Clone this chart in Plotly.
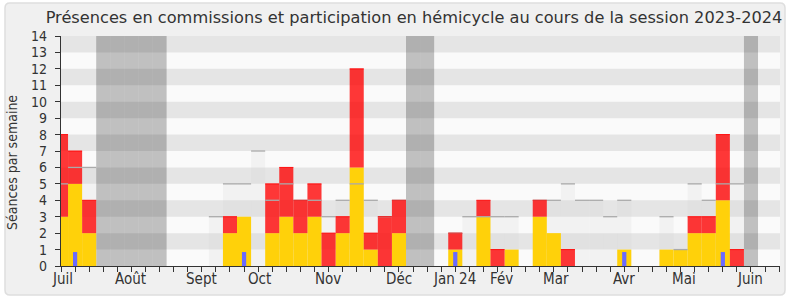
import plotly.graph_objects as go

# ---------------- data ----------------
weeks = list(range(52))
hemicycle = [3, 5, 2, 0, 0, 0, 0, 0, 0, 0, 0, 0, 2, 3, 0, 2, 3, 2, 3, 0,
             2, 6, 1, 0, 2, 0, 0, 0, 1, 0, 3, 0, 1, 0, 3, 2, 0, 0, 0, 0,
             1, 0, 0, 1, 1, 2, 2, 4, 0, 0, 0, 0]
commission = [5, 2, 2, 0, 0, 0, 0, 0, 0, 0, 0, 0, 1, 0, 0, 3, 3, 2, 2, 2,
              1, 6, 1, 3, 2, 0, 0, 0, 1, 0, 1, 1, 0, 0, 1, 0, 1, 0, 0, 0,
              0, 0, 0, 0, 0, 1, 1, 4, 1, 0, 0, 0]
mediane = [5, 6, 6, 0, 0, 0, 0, 0, 0, 0, 0, 3, 5, 5, 7, 4, 5, 4, 4, 3,
           4, 5, 4, 3, 4, 0, 0, 0, 2, 3, 3, 3, 3, 0, 4, 4, 5, 4, 4, 3,
           4, 0, 0, 3, 1, 5, 4, 5, 5, 0, 0, 0]
questions = [0, 0.85, 0, 0, 0, 0, 0, 0, 0, 0, 0, 0, 0, 0.85, 0, 0, 0, 0, 0, 0,
             0, 0, 0, 0, 0, 0, 0, 0, 0.85, 0, 0, 0, 0, 0, 0, 0, 0, 0, 0, 0,
             0.85, 0, 0, 0, 0, 0, 0, 0.85, 0, 0, 0, 0]
vacances = [3, 4, 5, 6, 7, 25, 26, 49]
mois_labels = ["Juil", "Août", "Sept", "Oct", "Nov", "Déc", "Jan 24", "Fév",
               "Mar", "Avr", "Mai", "Juin"]
mois_pos = [0.1, 4.97, 9.97, 14.1, 18.98, 24.0, 27.97, 31.25, 35.16, 39.95, 44.23, 48.96]
y_ticks = list(range(15))

TITLE = "Présences en commissions et participation en hémicycle au cours de la session 2023-2024"
YTITLE = "Séances par semaine"

# ---------------- geometry ----------------
W, H = 790, 300
ML, MR, MT, MB = 61, 10, 36, 34
PW, PH = W - ML - MR, H - MT - MB
XMAX = 51.06
COND = "DejaVu Sans Condensed, DejaVu Sans, sans-serif"
TXT = "#333333"


def px_x(px):
    return (px - ML) / PW


def px_y(py):
    return (H - MB - py) / PH


fig = go.Figure()

# median bars (fill + top line)
fig.add_trace(go.Bar(x=weeks, y=mediane, width=1, base=0,
                     marker=dict(color="rgba(205,205,205,0.16)", line_width=0),
                     hoverinfo="skip"))
mx, my = [], []
for w, m in zip(weeks, mediane):
    if m > 0:
        mx += [w - 0.5, w + 0.5, None]
        my += [m, m, None]
fig.add_trace(go.Scatter(x=mx, y=my, mode="lines",
                         line=dict(color="#aaaaaa", width=1.3), hoverinfo="skip"))

# hemicycle (yellow) and commission (red) stacked
fig.add_trace(go.Bar(x=weeks, y=hemicycle, width=1, base=0,
                     marker=dict(color="rgb(255,209,10)", line_width=0)))
fig.add_trace(go.Bar(x=weeks, y=commission, width=1, base=hemicycle,
                     marker=dict(color="rgba(255,0,0,0.78)", line_width=0)))
rx, ry = [], []
for w, h, c in zip(weeks, hemicycle, commission):
    if c > 0:
        rx += [w - 0.5, w + 0.5, None]
        ry += [h + c, h + c, None]
fig.add_trace(go.Scatter(x=rx, y=ry, mode="lines",
                         line=dict(color="rgba(255,0,0,0.9)", width=1), hoverinfo="skip"))

# questions (blue)
fig.add_trace(go.Bar(x=weeks, y=questions, width=0.3, base=0,
                     marker=dict(color="#6a6aff", line_width=0)))

# top tick marks
fig.add_trace(go.Scatter(x=weeks, y=[14.1] * len(weeks), mode="markers",
                         marker=dict(symbol="line-ns", size=3,
                                     line=dict(color="#444444", width=1)),
                         cliponaxis=False, hoverinfo="skip"))

shapes = []
# rounded panel
r = 5
x0, x1, y0, y1 = 5, 785, 3, 295
path = (f"M {px_x(x0 + r)} {px_y(y0)} L {px_x(x1 - r)} {px_y(y0)} "
        f"Q {px_x(x1)} {px_y(y0)} {px_x(x1)} {px_y(y0 + r)} "
        f"L {px_x(x1)} {px_y(y1 - r)} Q {px_x(x1)} {px_y(y1)} {px_x(x1 - r)} {px_y(y1)} "
        f"L {px_x(x0 + r)} {px_y(y1)} Q {px_x(x0)} {px_y(y1)} {px_x(x0)} {px_y(y1 - r)} "
        f"L {px_x(x0)} {px_y(y0 + r)} Q {px_x(x0)} {px_y(y0)} {px_x(x0 + r)} {px_y(y0)} Z")
shapes.append(dict(type="path", xref="paper", yref="paper", path=path,
                   fillcolor="#f0f0f0", line=dict(color="#dedede", width=1.5),
                   layer="below"))
# plot background
shapes.append(dict(type="rect", xref="paper", yref="paper", x0=0, x1=1, y0=0, y1=1,
                   fillcolor="#fafafa", line_width=0, layer="below"))
# alternating bands
for k in range(1, 14, 2):
    shapes.append(dict(type="rect", xref="paper", yref="y", x0=0, x1=1, y0=k, y1=k + 1,
                       fillcolor="#e5e5e5", line_width=0, layer="below"))
# holidays
for v in vacances:
    shapes.append(dict(type="rect", xref="x", yref="paper", x0=v - 0.5, x1=v + 0.5,
                       y0=0, y1=1, fillcolor="rgba(0,0,0,0.23)", line_width=0,
                       layer="below"))

annotations = []
for lab, pos in zip(mois_labels, mois_pos):
    annotations.append(dict(x=pos, y=px_y(268), xref="x", yref="paper", text=lab,
                            showarrow=False, xanchor="center", yanchor="top",
                            font=dict(family=COND, size=15, color=TXT)))
for t in y_ticks:
    annotations.append(dict(x=px_x(48), y=t, xref="paper", yref="y", text=str(t),
                            showarrow=False, xanchor="right", yanchor="middle",
                            borderpad=0,
                            font=dict(family=COND, size=14, color=TXT)))
annotations.append(dict(x=px_x(12), y=px_y(162), xref="paper", yref="paper",
                        text=YTITLE, textangle=-90, showarrow=False,
                        xanchor="center", yanchor="middle",
                        font=dict(family=COND, size=14, color=TXT)))

fig.update_layout(
    width=W, height=H,
    margin=dict(l=ML, r=MR, t=MT, b=MB, pad=0),
    paper_bgcolor="white", plot_bgcolor="rgba(0,0,0,0)",
    barmode="overlay", showlegend=False,
    title=dict(text=TITLE, x=px_x(414), xref="paper", xanchor="center",
               y=1 - 17 / H, yref="container", yanchor="middle",
               font=dict(family="DejaVu Sans, sans-serif", size=16.2, color=TXT)),
    xaxis=dict(range=[0, XMAX], tickvals=weeks, showticklabels=False,
               ticks="outside", ticklen=5, tickcolor="#333333", tickwidth=1,
               showline=True, linecolor="#333333", linewidth=1,
               showgrid=False, zeroline=False, fixedrange=True),
    yaxis=dict(range=[0, 14], tickvals=y_ticks, ticks="outside", ticklen=5,
               tickcolor="#333333", showline=True, linecolor="#333333", linewidth=1,
               showgrid=False, zeroline=False, showticklabels=False,
               fixedrange=True),
    shapes=shapes, annotations=annotations,
)

fig.write_html("out.html")
